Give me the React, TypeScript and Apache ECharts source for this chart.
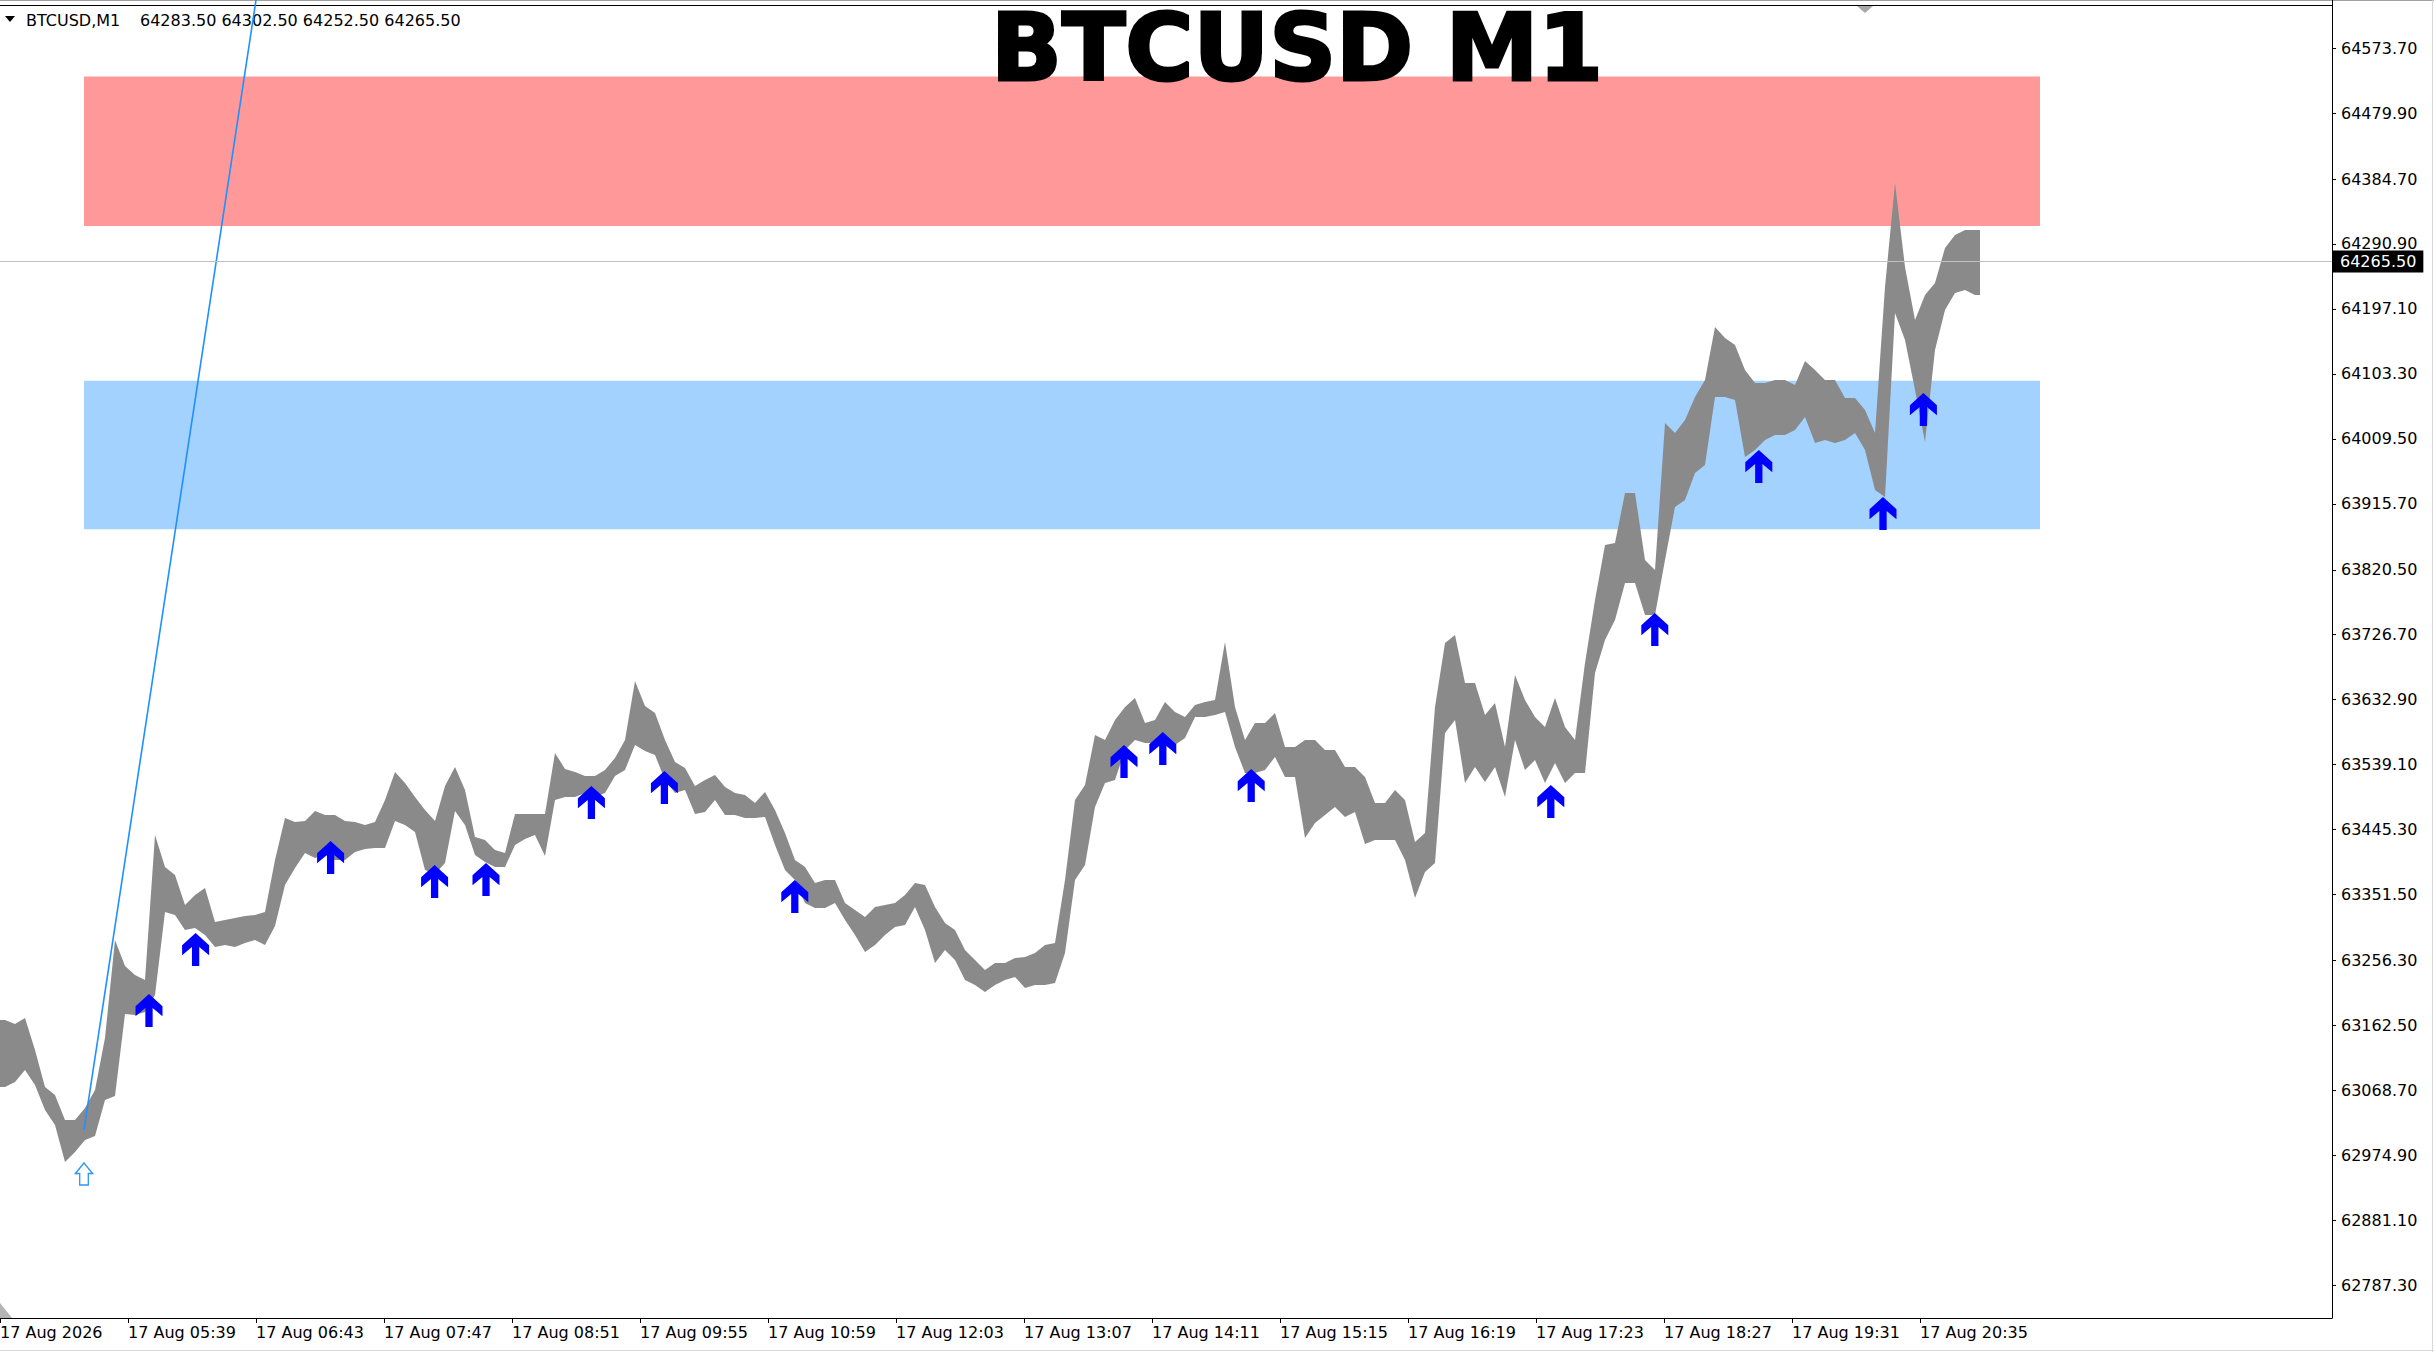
import React, { useEffect, useRef } from "react";
import * as echarts from "echarts";

// ---- data (minutes counted from 17 Aug 2026 04:35, one sample per 5 one-minute bars) ----
const SAMPLE_MINUTES = 5;
const highs = [
  63170.5, 63164.7, 63173.4, 63127.2, 63073.7, 63062.2, 63026.1, 63026.1, 63043.4, 63069.4,
  63144.5, 63286.0, 63248.4, 63235.4, 63228.2, 63437.6, 63391.4, 63379.8, 63336.5, 63351.0,
  63361.1, 63312.0, 63314.9, 63317.7, 63320.6, 63322.1, 63326.4, 63401.5, 63462.1, 63456.4,
  63457.8, 63472.2, 63466.5, 63466.5, 63457.8, 63456.4, 63452.0, 63456.4, 63488.1, 63528.5,
  63512.7, 63492.4, 63473.7, 63457.8, 63508.3, 63535.8, 63502.6, 63434.7, 63430.4, 63415.9,
  63411.6, 63467.9, 63467.9, 63467.9, 63467.9, 63556.0, 63532.9, 63528.5, 63522.8, 63522.8,
  63531.4, 63548.8, 63574.7, 63659.9, 63623.8, 63613.7, 63574.7, 63543.0, 63534.3, 63508.3,
  63517.0, 63524.2, 63506.9, 63498.2, 63495.4, 63483.8, 63499.7, 63473.7, 63440.5, 63401.5,
  63391.4, 63368.3, 63372.6, 63372.6, 63339.4, 63329.3, 63319.2, 63333.6, 63336.5, 63339.4,
  63351.0, 63368.3, 63365.4, 63333.6, 63310.5, 63300.4, 63271.5, 63257.1, 63242.7, 63252.8,
  63252.8, 63260.0, 63261.4, 63267.2, 63278.8, 63281.7, 63372.6, 63488.1, 63509.8, 63582.0,
  63574.7, 63603.6, 63622.4, 63635.4, 63599.3, 63603.6, 63629.6, 63615.2, 63607.9, 63625.3,
  63629.6, 63632.5, 63716.2, 63622.4, 63574.7, 63599.3, 63599.3, 63613.7, 63564.6, 63564.6,
  63574.7, 63574.7, 63560.3, 63560.3, 63535.8, 63535.8, 63521.3, 63483.8, 63483.8, 63502.6,
  63488.1, 63427.5, 63440.5, 63622.4, 63714.8, 63726.3, 63657.1, 63657.1, 63610.8, 63628.2,
  63564.6, 63668.6, 63632.5, 63607.9, 63593.5, 63635.4, 63593.5, 63574.7, 63685.9, 63776.9,
  63856.3, 63859.2, 63931.4, 63931.4, 63834.6, 63820.2, 64032.4, 64018.0, 64036.8, 64070.0,
  64094.5, 64171.0, 64155.1, 64145.0, 64109.0, 64090.2, 64090.2, 64094.5, 64094.5, 64087.3,
  64121.9, 64109.0, 64094.5, 64094.5, 64068.5, 64068.5, 64051.2, 64018.0, 64228.8, 64378.9,
  64257.7, 64181.1, 64217.2, 64234.6, 64285.1, 64303.9, 64311.1, 64311.1,
];
const lows = [
  63073.7, 63081.0, 63098.3, 63076.6, 63040.5, 63018.9, 62965.5, 62979.9, 62997.2, 63003.0,
  63055.0, 63060.7, 63179.1, 63177.7, 63182.0, 63206.6, 63326.4, 63322.1, 63300.4, 63303.3,
  63293.2, 63275.9, 63278.8, 63275.9, 63281.7, 63286.0, 63278.8, 63306.2, 63365.4, 63389.9,
  63411.6, 63404.4, 63408.7, 63401.5, 63401.5, 63413.0, 63417.4, 63418.8, 63418.8, 63457.8,
  63452.0, 63441.9, 63387.0, 63381.3, 63397.2, 63472.2, 63452.0, 63408.7, 63398.6, 63391.4,
  63391.4, 63423.1, 63431.8, 63437.6, 63407.3, 63488.1, 63492.4, 63492.4, 63498.2, 63492.4,
  63498.2, 63522.8, 63531.4, 63567.5, 63558.9, 63553.1, 63517.0, 63498.2, 63502.6, 63467.9,
  63470.8, 63488.1, 63466.5, 63466.5, 63462.1, 63462.1, 63463.6, 63423.1, 63387.0, 63372.6,
  63339.4, 63332.2, 63332.2, 63339.4, 63314.9, 63293.2, 63268.7, 63278.8, 63293.2, 63304.7,
  63307.6, 63333.6, 63300.4, 63252.8, 63271.5, 63257.1, 63228.2, 63221.0, 63210.9, 63221.0,
  63228.2, 63232.5, 63216.7, 63221.0, 63221.0, 63223.9, 63267.2, 63372.6, 63394.3, 63478.0,
  63512.7, 63517.0, 63560.3, 63574.7, 63570.4, 63570.4, 63582.0, 63567.5, 63577.6, 63607.9,
  63607.9, 63610.8, 63615.2, 63564.6, 63527.1, 63527.1, 63531.4, 63550.2, 63521.3, 63521.3,
  63433.2, 63454.9, 63466.5, 63478.0, 63463.6, 63470.8, 63424.6, 63430.4, 63430.4, 63430.4,
  63401.5, 63346.6, 63384.2, 63397.2, 63584.8, 63603.6, 63512.7, 63535.8, 63514.1, 63535.8,
  63492.4, 63574.7, 63531.4, 63545.8, 63512.7, 63541.5, 63512.7, 63527.1, 63527.1, 63671.5,
  63719.1, 63747.9, 63801.4, 63801.4, 63755.2, 63755.2, 63834.6, 63911.1, 63921.3, 63960.2,
  63971.8, 64070.0, 64070.0, 64065.6, 63983.3, 63993.4, 64007.9, 64015.1, 64015.1, 64022.3,
  64041.1, 64003.6, 64007.9, 64003.6, 64007.9, 64018.0, 63993.4, 63935.7, 63925.6, 64191.2,
  64152.3, 64080.1, 64005.0, 64137.8, 64195.6, 64220.1, 64224.4, 64217.2,
];

const arrowMinutes = [74.5, 97.8, 165.3, 217.3, 243, 295.7, 332.2, 397.4, 562, 581.4, 625.6, 775.4, 827.4, 879.4, 941.5, 961.7];
const arrowPrices = [63208.0, 63296.1, 63428.9, 63394.3, 63397.2, 63508.3, 63530.0, 63372.6, 63567.5, 63586.3, 63533.0, 63509.8, 63758.1, 63993.4, 63925.6, 64075.7];
const hollowArrow = [42, 62964.0];
const trendLine = [[42, 63011.7], [128, 64643.1]];

const supplyZone = [42, 1020, 64532.7, 64316.9]; // from, to, top, bottom
const demandZone = [42, 1020, 64093.5, 63879.0];

const yTicks = [64573.7, 64479.9, 64384.7, 64290.9, 64197.1, 64103.3, 64009.5, 63915.7, 63820.5, 63726.7,
  63632.9, 63539.1, 63445.3, 63351.5, 63256.3, 63162.5, 63068.7, 62974.9, 62881.1, 62787.3];
const xTickMinutes = [0, 64, 128, 192, 256, 320, 384, 448, 512, 576, 640, 704, 768, 832, 896, 960];
const xTickLabels = ["17 Aug 2026", "17 Aug 05:39", "17 Aug 06:43", "17 Aug 07:47", "17 Aug 08:51", "17 Aug 09:55",
  "17 Aug 10:59", "17 Aug 12:03", "17 Aug 13:07", "17 Aug 14:11", "17 Aug 15:15", "17 Aug 16:19",
  "17 Aug 17:23", "17 Aug 18:27", "17 Aug 19:31", "17 Aug 20:35"];

const symbolName = "BTCUSD,M1";
const ohlc = [64283.5, 64302.5, 64252.5, 64265.5];
const lastPrice = 64265.5;
const titleText = "BTCUSD M1";

const Y_MIN = 62740.2;
const Y_MAX = 64643.15;
const X_MAX = 1166;

const FONT = "'DejaVu Sans', Verdana, sans-serif";

const solidArrow = "path://M13.7,0 L27.4,12.3 L27.4,22.3 L17.4,14 L17.4,33 L10,33 L10,14 L0,22.3 L0,12.3 Z";
const outlineArrow = "path://M8.3,0 L16.6,10.5 L12.5,10.5 L12.5,22 L4.1,22 L4.1,10.5 L0,10.5 Z";

export default function App() {
  const ref = useRef<HTMLDivElement>(null);
  useEffect(() => {
    document.body.style.margin = "0";
    document.body.style.background = "#fff";
    const chart = echarts.init(ref.current!, undefined, { renderer: "svg" });
    const times = highs.map((_, i) => i * SAMPLE_MINUTES + SAMPLE_MINUTES / 2);
    const endMinute = highs.length * SAMPLE_MINUTES;

    const option: any = {
      animation: false,
      backgroundColor: "#ffffff",
      grid: { left: 0, right: 102, top: 0, bottom: 34, containLabel: false, outerBoundsMode: "none" },
      xAxis: {
        type: "value",
        min: 0,
        max: X_MAX,
        axisLine: { show: true, onZero: false, lineStyle: { color: "#000", width: 1 } },
        axisTick: { show: true, inside: false, length: 5, customValues: xTickMinutes, lineStyle: { color: "#000" } },
        axisLabel: {
          customValues: xTickMinutes,
          formatter: (v: number) => {
            let best = 0;
            xTickMinutes.forEach((m, i) => { if (Math.abs(m - v) < Math.abs(xTickMinutes[best] - v)) best = i; });
            return xTickLabels[best];
          },
          align: "left",
          margin: 6,
          color: "#000",
          fontSize: 16,
          fontFamily: FONT,
          showMinLabel: true,
          showMaxLabel: true,
        },
        splitLine: { show: false },
      },
      yAxis: {
        type: "value",
        position: "right",
        min: Y_MIN,
        max: Y_MAX,
        scale: true,
        axisLine: { show: true, onZero: false, lineStyle: { color: "#000", width: 1 } },
        axisTick: { show: true, inside: false, length: 4, customValues: yTicks, lineStyle: { color: "#000" } },
        axisLabel: {
          customValues: yTicks,
          formatter: (v: number) => v.toFixed(2),
          margin: 9,
          color: "#000",
          fontSize: 16,
          fontFamily: FONT,
        },
        splitLine: { show: false },
      },
      series: [
        {
          type: "line",
          z: 1,
          silent: true,
          data: [[supplyZone[0], supplyZone[3]]],
          showSymbol: false,
          lineStyle: { opacity: 0 },
          markArea: {
            silent: true,
            data: [
              [
                { xAxis: supplyZone[0], yAxis: supplyZone[2], itemStyle: { color: "#FF9999", opacity: 1 } },
                { xAxis: supplyZone[1], yAxis: supplyZone[3] },
              ],
              [
                { xAxis: demandZone[0], yAxis: demandZone[2], itemStyle: { color: "#A4D2FF", opacity: 1 } },
                { xAxis: demandZone[1], yAxis: demandZone[3] },
              ],
            ],
          },
          markLine: {
            silent: true,
            symbol: ["none", "none"],
            lineStyle: { color: "#c0c0c0", width: 1, type: "solid" },
            label: {
              position: "end",
              distance: 1,
              formatter: lastPrice.toFixed(2),
              backgroundColor: "#000",
              color: "#fff",
              padding: [3, 7, 3, 7],
              fontSize: 16,
              fontFamily: FONT,
            },
            data: [{ yAxis: lastPrice }],
          },
        },
        {
          type: "custom",
          z: 2,
          silent: true,
          clip: true,
          data: [[times[0], highs[0]]],
          renderItem: (params: any, api: any) => {
            if (params.dataIndex !== 0) return null;
            const pts: number[][] = [];
            pts.push(api.coord([0, highs[0]]));
            for (let i = 0; i < highs.length; i++) pts.push(api.coord([times[i], highs[i]]));
            pts.push(api.coord([endMinute, highs[highs.length - 1]]));
            pts.push(api.coord([endMinute, lows[lows.length - 1]]));
            for (let i = lows.length - 1; i >= 0; i--) pts.push(api.coord([times[i], lows[i]]));
            pts.push(api.coord([0, lows[0]]));
            return { type: "polygon", shape: { points: pts }, style: { fill: "#8a8a8a" } };
          },
        },
        {
          type: "line",
          z: 3,
          silent: true,
          clip: true,
          data: trendLine,
          showSymbol: false,
          lineStyle: { color: "#1E90FF", width: 1.6 },
        },
        {
          type: "scatter",
          z: 4,
          silent: true,
          data: arrowMinutes.map((t, i) => [t, arrowPrices[i]]),
          symbol: solidArrow,
          symbolSize: [27, 33],
          symbolOffset: [0, "50%"],
          itemStyle: { color: "#0000FF", opacity: 1 },
        },
        {
          type: "scatter",
          z: 4,
          silent: true,
          data: [hollowArrow],
          symbol: outlineArrow,
          symbolSize: [17, 22],
          symbolOffset: [0, "50%"],
          itemStyle: { color: "#ffffff", borderColor: "#2F95F5", borderWidth: 1.5, opacity: 1 },
        },
      ],
      graphic: [
        { type: "line", shape: { x1: 0, y1: 0.5, x2: 2434, y2: 0.5 }, style: { stroke: "#a0a0a0", lineWidth: 1 } },
        { type: "line", shape: { x1: 0, y1: 5.5, x2: 2332.5, y2: 5.5 }, style: { stroke: "#000", lineWidth: 1 } },
        { type: "line", shape: { x1: 2432.5, y1: 0, x2: 2432.5, y2: 1352 }, style: { stroke: "#d8d8d8", lineWidth: 1 } },
        { type: "line", shape: { x1: 0, y1: 1350.5, x2: 2434, y2: 1350.5 }, style: { stroke: "#d8d8d8", lineWidth: 1 } },
        { type: "polygon", shape: { points: [[1857, 6], [1873, 6], [1865, 13]] }, style: { fill: "#a8a8a8" } },
        { type: "polygon", shape: { points: [[0, 1303], [12, 1318], [0, 1318]] }, style: { fill: "#b4b4b4" } },
        { type: "polygon", shape: { points: [[5, 16], [15, 16], [10, 22]] }, style: { fill: "#000" } },
        {
          type: "text",
          x: 26,
          y: 20,
          style: {
            text: symbolName,
            fill: "#000",
            fontSize: 16,
            fontFamily: FONT,
            align: "left",
            verticalAlign: "middle",
            textAlign: "left",
            textVerticalAlign: "middle",
          },
        },
        {
          type: "text",
          x: 140,
          y: 20,
          style: {
            text: ohlc.map((v) => v.toFixed(2)).join(" "),
            fill: "#000",
            fontSize: 16,
            fontFamily: FONT,
            align: "left",
            verticalAlign: "middle",
            textAlign: "left",
            textVerticalAlign: "middle",
          },
        },
        {
          type: "text",
          x: 1297,
          y: 47.5,
          z: 10,
          style: {
            text: titleText,
            fill: "#000",
            stroke: "#000",
            lineWidth: 3,
            fontSize: 93,
            lineHeight: 93,
            fontWeight: "bold",
            fontFamily: FONT,
            align: "center",
            verticalAlign: "middle",
            textAlign: "center",
            textVerticalAlign: "middle",
          },
        },
      ],
    };
    chart.setOption(option);
    return () => chart.dispose();
  }, []);
  return <div ref={ref} style={{ width: 2434, height: 1352 }} />;
}
